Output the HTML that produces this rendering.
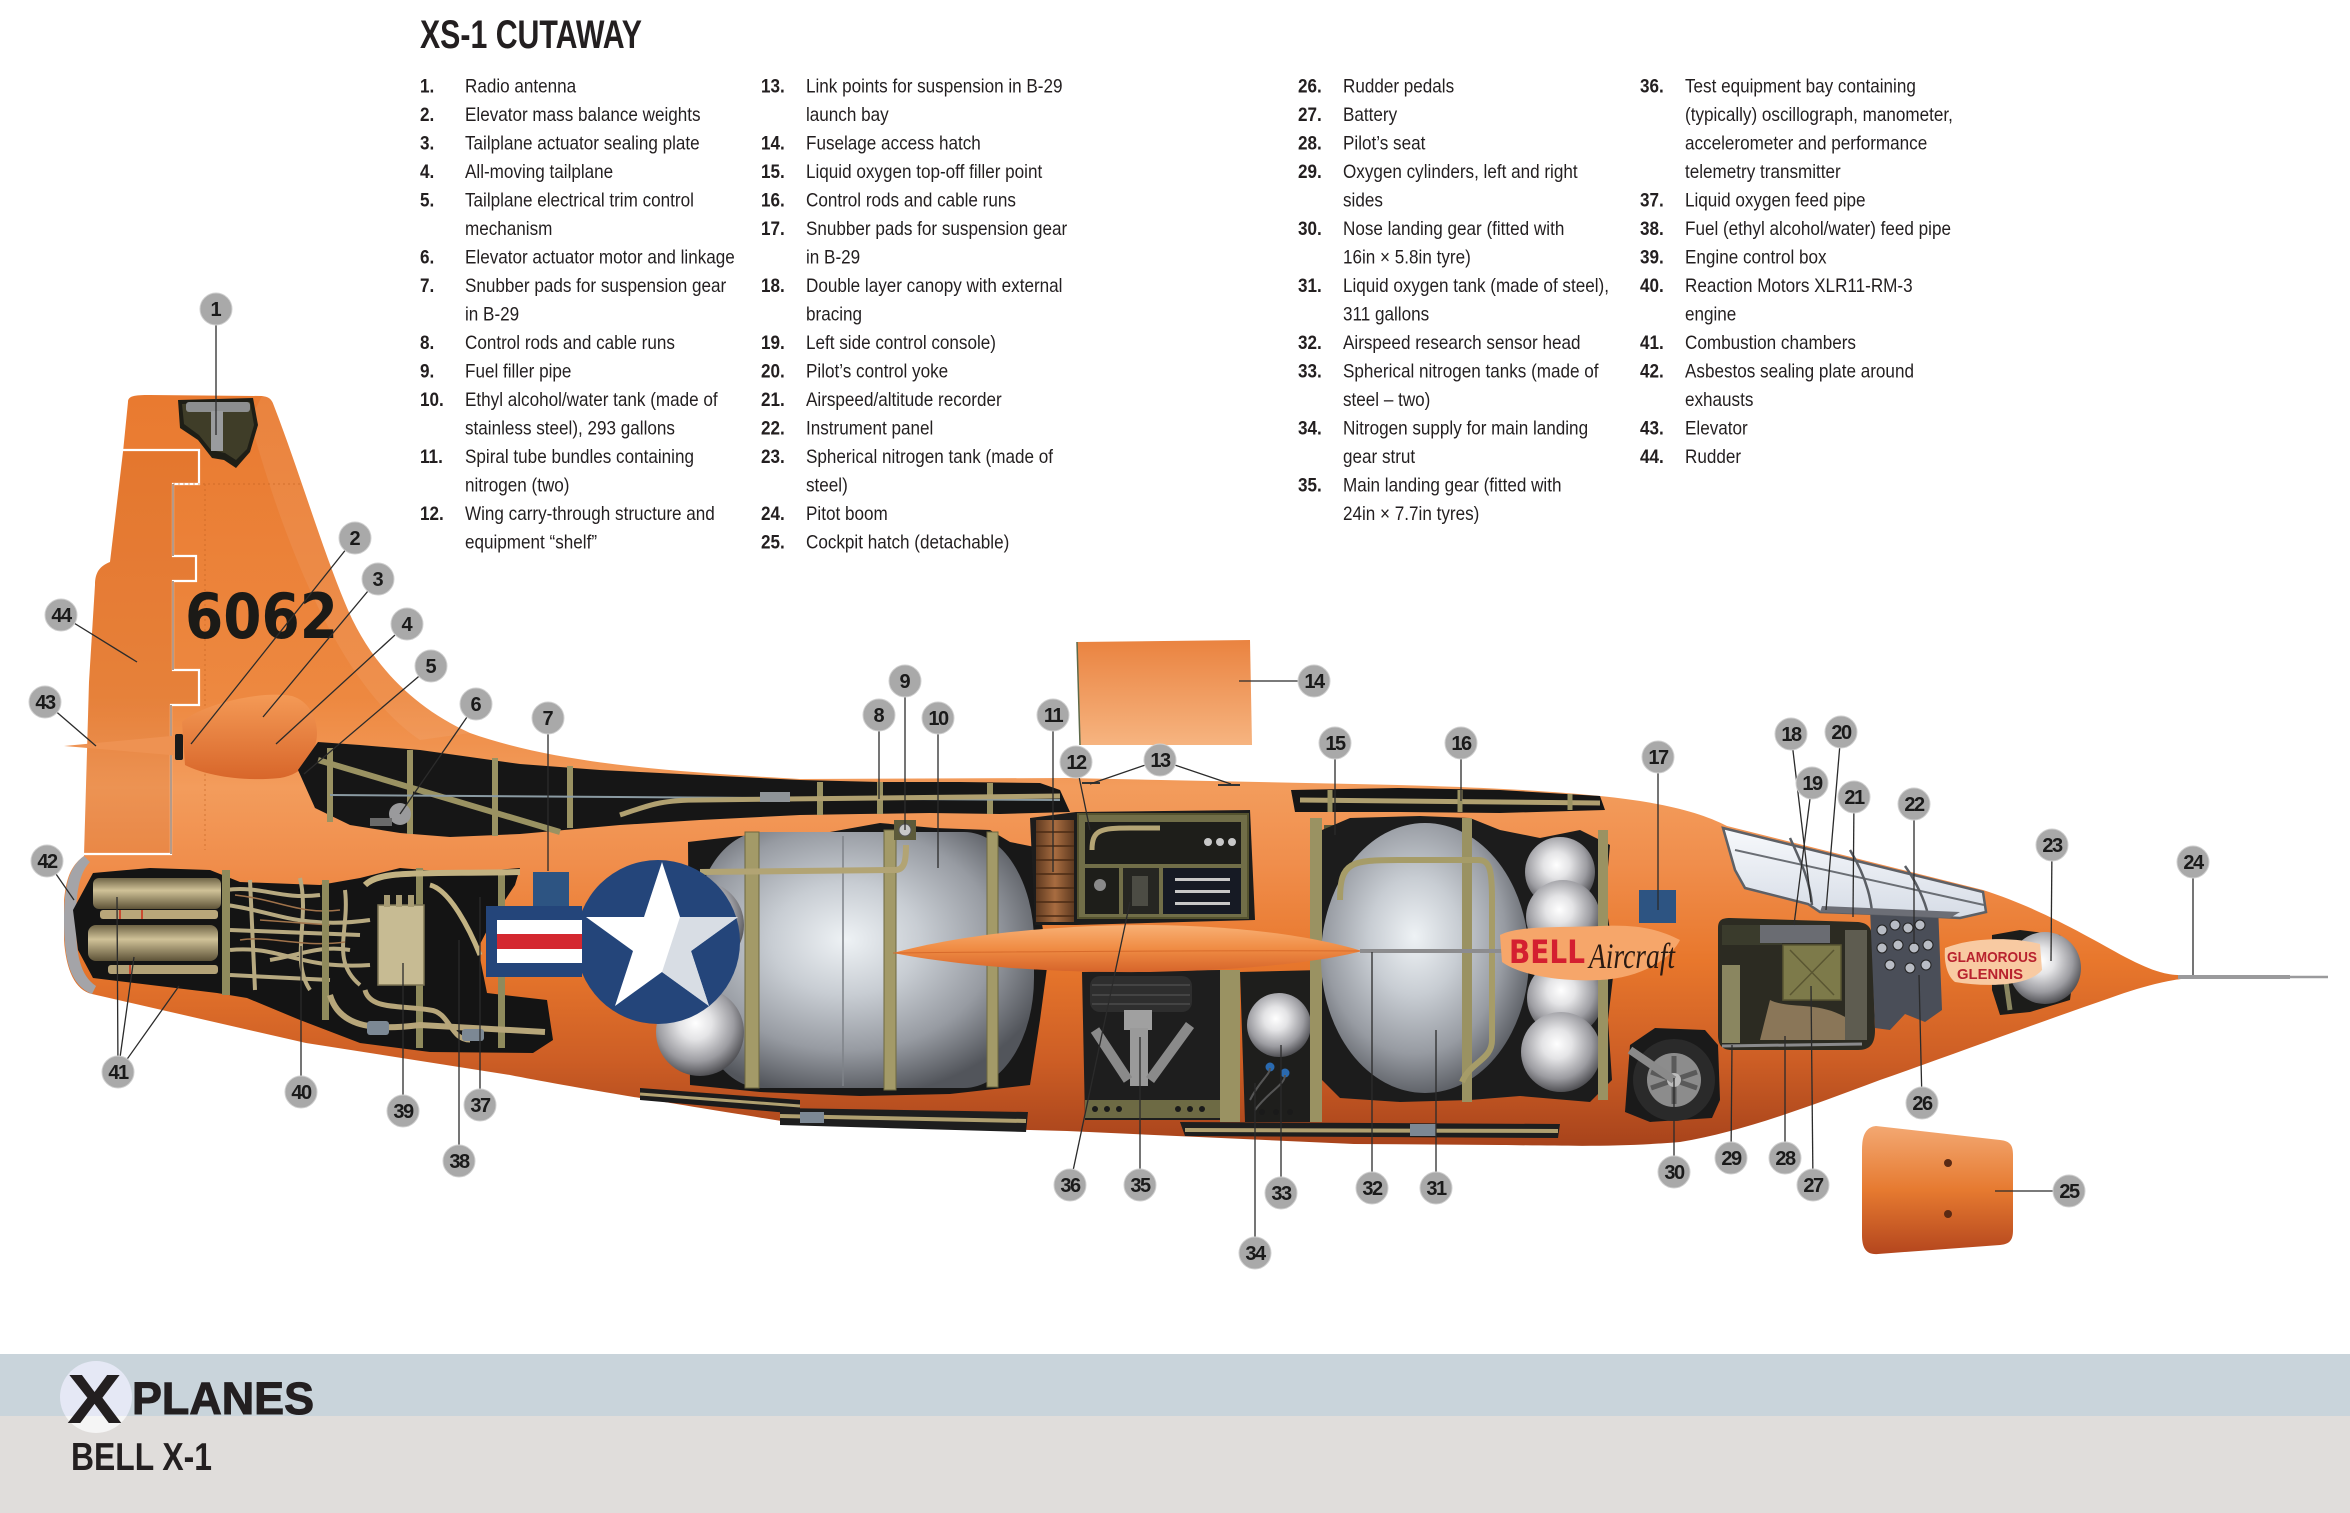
<!DOCTYPE html>
<html><head><meta charset="utf-8"><style>
html,body{margin:0;padding:0;background:#fff}
body{width:2350px;height:1513px;overflow:hidden}
svg{display:block}
</style></head><body>
<svg xmlns="http://www.w3.org/2000/svg" width="2350" height="1513" viewBox="0 0 2350 1513">
<defs>
<linearGradient id="fus" gradientUnits="userSpaceOnUse" x1="0" y1="395" x2="0" y2="1150">
<stop offset="0" stop-color="#e97a30"/><stop offset="0.40" stop-color="#ed8840"/><stop offset="0.52" stop-color="#f39c5c"/><stop offset="0.62" stop-color="#f08e4c"/><stop offset="0.75" stop-color="#e8772c"/><stop offset="0.88" stop-color="#cd5e25"/><stop offset="1" stop-color="#a6421b"/>
</linearGradient>
<radialGradient id="tankG" cx="0.45" cy="0.42" r="0.62">
<stop offset="0" stop-color="#eef2f5"/><stop offset="0.35" stop-color="#c8cdd3"/><stop offset="0.7" stop-color="#979ba2"/><stop offset="1" stop-color="#52555b"/>
</radialGradient>
<radialGradient id="sphG" cx="0.45" cy="0.4" r="0.62">
<stop offset="0" stop-color="#ffffff"/><stop offset="0.3" stop-color="#e4e4e6"/><stop offset="0.7" stop-color="#9c9ca1"/><stop offset="1" stop-color="#48484c"/>
</radialGradient>
<linearGradient id="wingG" x1="0" y1="0" x2="0" y2="1">
<stop offset="0" stop-color="#f8b074"/><stop offset="0.5" stop-color="#f08c44"/><stop offset="1" stop-color="#d6642a"/>
</linearGradient>
<linearGradient id="h14" x1="0" y1="0" x2="0" y2="1">
<stop offset="0" stop-color="#ea8340"/><stop offset="1" stop-color="#f6b480"/>
</linearGradient>
<linearGradient id="h25" x1="0" y1="0" x2="0" y2="1">
<stop offset="0" stop-color="#f3a872"/><stop offset="0.5" stop-color="#e67a30"/><stop offset="1" stop-color="#b4461e"/>
</linearGradient>
<linearGradient id="tan" x1="0" y1="0" x2="0" y2="1">
<stop offset="0" stop-color="#6f6446"/><stop offset="0.4" stop-color="#d0c298"/><stop offset="1" stop-color="#5e5338"/>
</linearGradient>
<linearGradient id="canG" x1="0" y1="0" x2="0" y2="1">
<stop offset="0" stop-color="#f7f9fc"/><stop offset="1" stop-color="#d6dce6"/>
</linearGradient>
<linearGradient id="spiral" x1="0" y1="0" x2="1" y2="0">
<stop offset="0" stop-color="#5e3a20"/><stop offset="0.5" stop-color="#a86c40"/><stop offset="1" stop-color="#5e3a20"/>
</linearGradient>
<linearGradient id="tailp" x1="0" y1="0" x2="0" y2="1">
<stop offset="0" stop-color="#f49a56"/><stop offset="1" stop-color="#d8662a"/>
</linearGradient>
<linearGradient id="xcirc" gradientUnits="userSpaceOnUse" x1="0" y1="1361" x2="0" y2="1433">
<stop offset="0.764" stop-color="#e5e8f5"/><stop offset="0.764" stop-color="#f5f5f5"/>
</linearGradient>
</defs>

<!-- ===== TITLE & LIST ===== -->
<text x="420" y="48" font-family="Liberation Sans, Arial, sans-serif" font-size="40" font-weight="bold" fill="#231f20" textLength="222" lengthAdjust="spacingAndGlyphs">XS-1 CUTAWAY</text>

<g font-family="Liberation Sans, Arial, sans-serif" font-size="19" fill="#231f20">
<g transform="translate(420 0) scale(0.9 1)" font-weight="bold">
<text x="0" y="92.5">1.</text><text x="0" y="121">2.</text><text x="0" y="149.5">3.</text><text x="0" y="178">4.</text><text x="0" y="206.5">5.</text><text x="0" y="263.5">6.</text><text x="0" y="292">7.</text><text x="0" y="349">8.</text><text x="0" y="377.5">9.</text><text x="0" y="406">10.</text><text x="0" y="463">11.</text><text x="0" y="520">12.</text>
</g>
<g transform="translate(465 0) scale(0.9 1)">
<text x="0" y="92.5">Radio antenna</text>
<text x="0" y="121">Elevator mass balance weights</text>
<text x="0" y="149.5">Tailplane actuator sealing plate</text>
<text x="0" y="178">All-moving tailplane</text>
<text x="0" y="206.5">Tailplane electrical trim control</text>
<text x="0" y="235">mechanism</text>
<text x="0" y="263.5">Elevator actuator motor and linkage</text>
<text x="0" y="292">Snubber pads for suspension gear</text>
<text x="0" y="320.5">in B-29</text>
<text x="0" y="349">Control rods and cable runs</text>
<text x="0" y="377.5">Fuel filler pipe</text>
<text x="0" y="406">Ethyl alcohol/water tank (made of</text>
<text x="0" y="434.5">stainless steel), 293 gallons</text>
<text x="0" y="463">Spiral tube bundles containing</text>
<text x="0" y="491.5">nitrogen (two)</text>
<text x="0" y="520">Wing carry-through structure and</text>
<text x="0" y="548.5">equipment &#8220;shelf&#8221;</text>
</g>

<g transform="translate(761 0) scale(0.9 1)" font-weight="bold">
<text x="0" y="92.5">13.</text><text x="0" y="149.5">14.</text><text x="0" y="178">15.</text><text x="0" y="206.5">16.</text><text x="0" y="235">17.</text><text x="0" y="292">18.</text><text x="0" y="349">19.</text><text x="0" y="377.5">20.</text><text x="0" y="406">21.</text><text x="0" y="434.5">22.</text><text x="0" y="463">23.</text><text x="0" y="520">24.</text><text x="0" y="548.5">25.</text>
</g>
<g transform="translate(806 0) scale(0.9 1)">
<text x="0" y="92.5">Link points for suspension in B-29</text>
<text x="0" y="121">launch bay</text>
<text x="0" y="149.5">Fuselage access hatch</text>
<text x="0" y="178">Liquid oxygen top-off filler point</text>
<text x="0" y="206.5">Control rods and cable runs</text>
<text x="0" y="235">Snubber pads for suspension gear</text>
<text x="0" y="263.5">in B-29</text>
<text x="0" y="292">Double layer canopy with external</text>
<text x="0" y="320.5">bracing</text>
<text x="0" y="349">Left side control console)</text>
<text x="0" y="377.5">Pilot&#8217;s control yoke</text>
<text x="0" y="406">Airspeed/altitude recorder</text>
<text x="0" y="434.5">Instrument panel</text>
<text x="0" y="463">Spherical nitrogen tank (made of</text>
<text x="0" y="491.5">steel)</text>
<text x="0" y="520">Pitot boom</text>
<text x="0" y="548.5">Cockpit hatch (detachable)</text>
</g>

<g transform="translate(1298 0) scale(0.9 1)" font-weight="bold">
<text x="0" y="92.5">26.</text><text x="0" y="121">27.</text><text x="0" y="149.5">28.</text><text x="0" y="178">29.</text><text x="0" y="235">30.</text><text x="0" y="292">31.</text><text x="0" y="349">32.</text><text x="0" y="377.5">33.</text><text x="0" y="434.5">34.</text><text x="0" y="491.5">35.</text>
</g>
<g transform="translate(1343 0) scale(0.9 1)">
<text x="0" y="92.5">Rudder pedals</text>
<text x="0" y="121">Battery</text>
<text x="0" y="149.5">Pilot&#8217;s seat</text>
<text x="0" y="178">Oxygen cylinders, left and right</text>
<text x="0" y="206.5">sides</text>
<text x="0" y="235">Nose landing gear (fitted with</text>
<text x="0" y="263.5">16in &#215; 5.8in tyre)</text>
<text x="0" y="292">Liquid oxygen tank (made of steel),</text>
<text x="0" y="320.5">311 gallons</text>
<text x="0" y="349">Airspeed research sensor head</text>
<text x="0" y="377.5">Spherical nitrogen tanks (made of</text>
<text x="0" y="406">steel &#8211; two)</text>
<text x="0" y="434.5">Nitrogen supply for main landing</text>
<text x="0" y="463">gear strut</text>
<text x="0" y="491.5">Main landing gear (fitted with</text>
<text x="0" y="520">24in &#215; 7.7in tyres)</text>
</g>

<g transform="translate(1640 0) scale(0.9 1)" font-weight="bold">
<text x="0" y="92.5">36.</text><text x="0" y="206.5">37.</text><text x="0" y="235">38.</text><text x="0" y="263.5">39.</text><text x="0" y="292">40.</text><text x="0" y="349">41.</text><text x="0" y="377.5">42.</text><text x="0" y="434.5">43.</text><text x="0" y="463">44.</text>
</g>
<g transform="translate(1685 0) scale(0.9 1)">
<text x="0" y="92.5">Test equipment bay containing</text>
<text x="0" y="121">(typically) oscillograph, manometer,</text>
<text x="0" y="149.5">accelerometer and performance</text>
<text x="0" y="178">telemetry transmitter</text>
<text x="0" y="206.5">Liquid oxygen feed pipe</text>
<text x="0" y="235">Fuel (ethyl alcohol/water) feed pipe</text>
<text x="0" y="263.5">Engine control box</text>
<text x="0" y="292">Reaction Motors XLR11-RM-3</text>
<text x="0" y="320.5">engine</text>
<text x="0" y="349">Combustion chambers</text>
<text x="0" y="377.5">Asbestos sealing plate around</text>
<text x="0" y="406">exhausts</text>
<text x="0" y="434.5">Elevator</text>
<text x="0" y="463">Rudder</text>
</g>
</g>

<!-- ===== DETACHED HATCHES ===== -->
<path d="M1077,642 L1250,640 L1252,745 L1080,745 Z" fill="url(#h14)"/>
<path d="M1077,642 L1080,745" stroke="#5d6a4a" stroke-width="1.5"/>
<path d="M1876,1126 C1866,1127 1862,1135 1862,1150 L1862,1235 C1862,1248 1866,1255 1878,1254 L2000,1245 C2010,1244 2013,1240 2013,1230 L2013,1155 C2013,1145 2010,1141 2000,1140 Z" fill="url(#h25)"/>
<circle cx="1948" cy="1163" r="4" fill="#5a2a14"/><circle cx="1948" cy="1214" r="4" fill="#5a2a14"/>

<!-- ===== AIRCRAFT BODY ===== -->
<path d="M128,402 C128,396 134,395 150,395 L262,396 C270,397 272,400 274,406 C298,468 322,548 345,603 C368,660 410,706 470,733 C560,765 680,772 800,779 L1067,778 L1354,784 C1460,786 1540,790 1600,796 C1660,802 1700,812 1727,826 L1983,890 C2040,908 2090,938 2125,957 C2150,970 2165,975 2180,975 L2181,979 C2165,981 2140,987 2110,998 C2040,1022 1960,1052 1880,1080 C1800,1110 1740,1132 1680,1142 C1620,1147 1580,1146 1500,1145 L1354,1144 L1067,1131 L800,1124 C650,1100 560,1085 510,1075 L306,1043 L92,994 C75,990 66,970 64,940 L64,900 C66,880 70,866 84,856 L89,682 L95,585 C95,572 100,566 110,562 L123,452 Z" fill="url(#fus)"/>
<!-- rudder tint -->
<path d="M84,854 L171,854 L171,705 L199,705 L199,670 L173,670 L173,581 L196,581 L196,556 L173,556 L173,484 L199,484 L199,450 L123,450 L110,562 C100,566 95,572 95,585 L89,682 Z" fill="#b0400a" opacity="0.10"/>
<!-- fin leading-edge highlight -->
<path d="M262,396 C270,397 272,400 274,406 C298,468 322,548 345,603 C368,660 410,706 470,733 L420,740 C360,700 300,600 250,420 Z" fill="#fff" opacity="0.07"/>
<!-- hinge lines -->
<path d="M122,450 L199,450 L199,484 L173,484 L173,556 L196,556 L196,581 L173,581 L173,670 L199,670 L199,705 L171,705 L171,854 L84,854" fill="none" stroke="#ffffff" stroke-width="2.2"/>
<path d="M171,705 L171,854 M173,484 L173,556 M173,581 L173,670" fill="none" stroke="#6b3510" stroke-width="1"/>
<path d="M205,484 L205,850 M173,484 L300,484" stroke="#c0601e" stroke-width="1" stroke-dasharray="2 3" opacity="0.6"/>

<!-- antenna cutaway -->
<path d="M178,400 L253,398 L258,425 L250,452 L236,468 L224,460 L212,458 L198,440 L180,428 Z" fill="#1e1e16"/>
<path d="M182,404 L250,402 L254,425 L247,449 L236,460 L225,453 L211,450 L199,435 L184,424 Z" fill="#3f3d28"/>
<rect x="186" y="402" width="64" height="10" rx="3" fill="#8d8f90"/>
<rect x="211" y="411" width="12" height="40" fill="#9a9c9e"/>

<!-- 6062 -->
<text x="185" y="638" font-family="DejaVu Sans, Liberation Sans, sans-serif" font-size="62" font-weight="bold" fill="#1b1a17" textLength="153" lengthAdjust="spacingAndGlyphs">6062</text>

<!-- tailplane -->
<path d="M64,746 L182,735 L182,756 Z" fill="#ee9252"/>
<path d="M182,722 C200,705 260,690 292,696 C312,702 320,725 316,742 C312,762 300,775 280,778 C240,782 205,775 185,765 Z" fill="url(#tailp)"/>
<rect x="175" y="734" width="8" height="26" rx="2" fill="#1a1a1a"/>

<!-- asbestos plate -->
<path d="M84,856 C70,866 64,885 64,920 C64,960 70,985 92,994 L96,986 C80,975 76,955 76,920 C76,890 80,872 90,862 Z" fill="#a4a4a8"/>

<!-- upper aft dark strip -->
<path d="M298,770 L318,742 L360,745 L420,750 L470,757 L520,764 L600,770 L700,775 L800,780 L880,782 L960,782 L1040,783 L1060,790 L1070,812 L1000,814 L930,813 L860,814 L800,815 L700,820 L620,825 L520,834 L450,837 L400,833 L350,825 L315,808 Z" fill="#161616"/>
<g stroke="#9a9262" stroke-width="6" fill="none">
<path d="M330,748 L330,822 M410,750 L410,834 M495,758 L495,836 M570,766 L570,828 M820,782 L820,815 M880,782 L880,814 M990,783 L990,814"/>
<path d="M318,760 L560,832"/>
</g>
<path d="M330,795 L1060,800" stroke="#8a9aa2" stroke-width="2"/>
<path d="M620,815 C650,805 660,800 700,800 L1060,796" stroke="#b0a070" stroke-width="5" fill="none"/>
<rect x="760" y="792" width="30" height="10" fill="#8f9498"/>
<circle cx="400" cy="814" r="11" fill="#9a9a9c"/><rect x="370" y="818" width="22" height="8" fill="#6a6a6a"/>

<!-- engine cutaway -->
<path d="M73,910 L93,873 L150,868 L210,870 L240,882 L320,885 L360,878 L400,868 L460,873 L520,868 L515,885 L495,915 L478,948 L487,993 L547,1000 L553,1040 L533,1053 L430,1052 L360,1043 L300,1020 L247,998 L217,993 L93,978 L78,950 Z" fill="#141414"/>
<rect x="93" y="878" width="128" height="31" rx="6" fill="url(#tan)"/>
<rect x="88" y="925" width="130" height="36" rx="8" fill="url(#tan)"/>
<rect x="100" y="910" width="118" height="9" rx="3" fill="#b9a77a"/>
<rect x="108" y="965" width="110" height="9" rx="3" fill="#b3a277"/>
<g stroke="#c94a30" stroke-width="2"><path d="M120,910 L120,919 M142,910 L142,919 M130,965 L130,974"/></g>
<g stroke="#b7a980" stroke-width="4" fill="none">
<path d="M226,890 C260,885 280,900 320,895"/>
<path d="M226,905 C270,910 300,930 370,920"/>
<path d="M230,930 L360,935"/>
<path d="M230,950 C280,945 300,970 370,965"/>
<path d="M230,975 L330,980"/>
<path d="M250,880 L255,990"/>
<path d="M300,878 C310,920 290,960 310,990"/>
<path d="M345,890 C350,930 330,960 360,985"/>
<path d="M270,960 C300,955 320,945 350,950"/>
</g>
<g stroke="#a0724a" stroke-width="1.5" fill="none"><path d="M235,895 C280,900 300,915 340,910 M240,940 C270,935 300,948 345,942 M260,920 L330,925"/></g>
<g fill="#8f8a5c"><rect x="222" y="870" width="8" height="125"/><rect x="322" y="880" width="7" height="140"/><rect x="416" y="868" width="7" height="180"/><rect x="498" y="870" width="7" height="178"/></g>
<path d="M365,885 C380,870 420,874 520,872" stroke="#c2b282" stroke-width="6" fill="none"/>
<path d="M430,885 C450,890 470,930 480,955" stroke="#c2b282" stroke-width="5" fill="none"/>
<path d="M330,995 C340,1030 380,1030 420,1025 L545,1032" stroke="#b7a67a" stroke-width="6" fill="none"/>
<path d="M365,990 C370,1010 400,1005 430,1010 C450,1012 450,1040 470,1040" stroke="#b7a67a" stroke-width="5" fill="none"/>
<rect x="367" y="1021" width="22" height="14" rx="3" fill="#7c8894"/><rect x="462" y="1029" width="22" height="12" rx="3" fill="#7c8894"/>
<rect x="378" y="905" width="46" height="80" fill="#c7bb93" stroke="#7d7455" stroke-width="1.5"/>
<rect x="384" y="895" width="6" height="12" fill="#a89c74"/><rect x="396" y="895" width="6" height="12" fill="#a89c74"/><rect x="408" y="895" width="6" height="12" fill="#a89c74"/>

<!-- aft lower strip -->
<path d="M640,1088 L800,1100 L800,1114 L640,1100 Z" fill="#1c1c1c"/>
<path d="M640,1094 L800,1106" stroke="#b0a070" stroke-width="3"/>

<!-- blue box 7 -->
<rect x="533" y="872" width="36" height="34" fill="#2d5482"/>

<!-- fuel tank area -->
<path d="M688,842 L740,836 L830,832 L880,823 L935,828 L990,830 L1010,842 L1040,848 L1038,900 L1048,960 L1040,1020 L1030,1085 L950,1094 L860,1096 L760,1092 L690,1085 Z" fill="#181818"/>
<rect x="692" y="832" width="342" height="256" rx="70" ry="110" fill="url(#tankG)"/>
<path d="M843,836 L843,1086" stroke="#7e8288" stroke-width="1.5"/>
<g fill="#a39a68" stroke="#6e6840" stroke-width="1"><rect x="745" y="832" width="14" height="256"/><rect x="884" y="830" width="12" height="260"/><rect x="987" y="832" width="11" height="255"/></g>
<path d="M700,872 L895,870 C905,870 906,860 906,845" stroke="#b2a474" stroke-width="6" fill="none"/>
<rect x="894" y="820" width="22" height="20" fill="#5c5a3a"/><circle cx="905" cy="830" r="6" fill="#c8c8c8" stroke="#555"/>

<!-- spheres behind roundel -->
<circle cx="700" cy="925" r="44" fill="url(#sphG)"/>
<circle cx="700" cy="1032" r="44" fill="url(#sphG)"/>

<!-- roundel -->
<circle cx="658" cy="942" r="82" fill="#24457a"/>
<rect x="486" y="906" width="96" height="71" fill="#24457a"/>
<rect x="497" y="920" width="85" height="43" fill="#ffffff"/>
<rect x="497" y="934" width="85" height="15" fill="#d42830"/>
<polygon points="662,862 680,917 738,917 691,951 709,1006 662,972 615,1006 633,951 586,917 644,917" fill="#ffffff"/>
<polygon points="662,972 709,1006 691,951 738,917 680,917" fill="#d8dde4"/>

<!-- equipment bay / spiral -->
<path d="M1030,818 L1076,812 L1250,810 L1255,920 L1076,925 L1035,925 Z" fill="#1c1c1c"/>
<rect x="1036" y="820" width="38" height="102" fill="url(#spiral)"/>
<g stroke="#4a2a14" stroke-width="1.5"><path d="M1036,832 L1074,832 M1036,846 L1074,846 M1036,860 L1074,860 M1036,874 L1074,874 M1036,888 L1074,888 M1036,902 L1074,902 M1036,916 L1074,916"/></g>
<rect x="1078" y="814" width="170" height="104" fill="#716e48" stroke="#55532f" stroke-width="2"/>
<rect x="1085" y="822" width="156" height="42" fill="#1e1e1a"/>
<rect x="1085" y="868" width="34" height="46" fill="#1e1e1a"/>
<rect x="1123" y="868" width="36" height="46" fill="#262622"/>
<rect x="1163" y="868" width="78" height="46" fill="#161a24"/>
<path d="M1092,850 C1092,830 1100,828 1130,828 L1160,828" stroke="#b4a474" stroke-width="5" fill="none"/>
<g fill="#c8c8c8"><circle cx="1220" cy="842" r="4"/><circle cx="1232" cy="842" r="4"/><circle cx="1208" cy="842" r="4"/><rect x="1175" y="878" width="55" height="3"/><rect x="1175" y="890" width="55" height="3"/><rect x="1175" y="902" width="55" height="3"/></g>
<circle cx="1100" cy="885" r="6" fill="#8a8a8a"/><rect x="1132" y="876" width="16" height="30" fill="#4c4c44"/>

<!-- upper mid strip 16 -->
<path d="M1291,790 L1400,788 L1500,790 L1600,796 L1605,810 L1500,813 L1400,812 L1295,812 Z" fill="#161616"/>
<path d="M1300,800 L1600,803" stroke="#b0a070" stroke-width="5"/>
<g stroke="#9a9262" stroke-width="5"><path d="M1330,790 L1330,812 M1460,790 L1460,812 M1570,794 L1570,810"/></g>
<rect x="1324" y="825" width="22" height="20" fill="#5c5a3a"/><circle cx="1335" cy="835" r="6" fill="#c8c8c8" stroke="#555"/>

<!-- gear bay -->
<path d="M1082,972 L1220,970 L1222,1120 L1085,1120 Z" fill="#1e1e1e"/>
<rect x="1090" y="976" width="102" height="36" rx="10" fill="#2e2e2e"/>
<g stroke="#444" stroke-width="2"><path d="M1092,985 L1190,985 M1092,995 L1190,995 M1092,1004 L1190,1004"/></g>
<rect x="1124" y="1010" width="28" height="20" fill="#a0a0a0"/>
<rect x="1130" y="1028" width="18" height="58" fill="#9a9a9a"/>
<path d="M1095,1030 L1128,1080 M1190,1025 L1150,1080" stroke="#8a8a8a" stroke-width="10"/>
<rect x="1085" y="1100" width="135" height="18" fill="#6d6a44"/>
<g fill="#1a1a1a"><circle cx="1095" cy="1109" r="3"/><circle cx="1107" cy="1109" r="3"/><circle cx="1119" cy="1109" r="3"/><circle cx="1178" cy="1109" r="3"/><circle cx="1190" cy="1109" r="3"/><circle cx="1202" cy="1109" r="3"/></g>

<!-- N2 bay -->
<path d="M1240,972 L1322,970 L1322,1122 L1245,1122 Z" fill="#1e1e1c"/>
<circle cx="1279" cy="1025" r="32" fill="url(#sphG)"/>
<circle cx="1270" cy="1067" r="4.5" fill="#2a6ab0"/><circle cx="1285" cy="1073" r="4.5" fill="#2a6ab0"/>
<path d="M1250,1100 C1260,1080 1270,1075 1270,1068 M1255,1110 C1270,1090 1285,1085 1285,1075" stroke="#555" stroke-width="2" fill="none"/>
<g fill="#1a1a1a"><circle cx="1262" cy="1112" r="3"/><circle cx="1276" cy="1112" r="3"/><circle cx="1290" cy="1112" r="3"/></g>
<g fill="#9a9262"><rect x="1220" y="970" width="20" height="152"/><rect x="1310" y="818" width="12" height="304"/></g>

<!-- LOX tank area -->
<path d="M1322,830 L1350,818 L1420,816 L1470,818 L1500,830 L1540,838 L1580,830 L1610,845 L1605,900 L1615,960 L1608,1020 L1612,1080 L1590,1102 L1520,1096 L1470,1100 L1400,1102 L1340,1098 L1322,1080 Z" fill="#1c1c1c"/>
<ellipse cx="1425" cy="958" rx="104" ry="135" fill="url(#tankG)"/>
<circle cx="1560" cy="872" r="35" fill="url(#sphG)"/>
<circle cx="1563" cy="917" r="37" fill="url(#sphG)"/>
<circle cx="1565" cy="998" r="38" fill="url(#sphG)"/>
<circle cx="1561" cy="1052" r="40" fill="url(#sphG)"/>
<g fill="#9a9262"><rect x="1462" y="818" width="10" height="284"/><rect x="1598" y="830" width="10" height="270"/></g>
<path d="M1340,900 C1340,862 1350,860 1400,860 L1478,860 C1490,860 1492,870 1492,900 L1492,1040 C1492,1060 1470,1062 1462,1082" stroke="#a69c68" stroke-width="6" fill="none"/>

<!-- lower pipe strips -->
<path d="M780,1108 L1028,1112 L1026,1132 L780,1125 Z" fill="#1e1e1e"/>
<path d="M780,1116 L1026,1121" stroke="#b0a070" stroke-width="4"/>
<rect x="800" y="1112" width="24" height="11" fill="#7c8894"/>
<path d="M1180,1122 L1560,1124 L1558,1138 L1185,1136 Z" fill="#1e1e1e"/>
<path d="M1185,1130 L1558,1131" stroke="#b0a070" stroke-width="4"/>
<rect x="1410" y="1124" width="26" height="12" fill="#7c8894"/>

<!-- wing -->
<path d="M893,953 C960,935 1050,925 1150,925 C1250,926 1320,938 1362,951 C1320,962 1250,970 1150,972 C1050,973 960,966 893,953 Z" fill="url(#wingG)"/>
<path d="M893,953 C1000,952 1200,950 1362,951" stroke="#c9581e" stroke-width="1" opacity="0.6" fill="none"/>
<!-- sensor rod 32 -->
<path d="M1360,951 L1525,951" stroke="#8c8c8e" stroke-width="4"/>

<!-- Bell Aircraft -->
<path d="M1500,935 C1520,925 1560,928 1600,926 C1640,924 1660,930 1680,940 C1670,960 1640,978 1600,980 C1560,982 1520,975 1502,962 Z" fill="#f6a66a"/>
<text x="1509" y="963" font-family="DejaVu Sans, Liberation Sans, sans-serif" font-size="32" font-weight="bold" fill="#d41f30" textLength="76" lengthAdjust="spacingAndGlyphs">BELL</text>
<text x="1589" y="968" font-family="Liberation Serif, serif" font-style="italic" font-size="36" fill="#2a1a12" textLength="86" lengthAdjust="spacingAndGlyphs">Aircraft</text>

<!-- blue box 17 -->
<rect x="1639" y="890" width="37" height="33" fill="#2d5482"/>

<!-- nose gear -->
<path d="M1630,1045 L1655,1028 L1705,1030 L1718,1045 L1720,1100 L1712,1118 L1650,1122 L1625,1112 Z" fill="#1a1a1a"/>
<circle cx="1674" cy="1080" r="41" fill="#2a2a2a"/>
<circle cx="1674" cy="1080" r="27" fill="#8c8c8c"/>
<g stroke="#5a5a5a" stroke-width="5"><path d="M1674,1056 L1674,1104 M1651,1072 L1697,1088 M1651,1088 L1697,1072"/></g>
<circle cx="1674" cy="1080" r="7" fill="#bdbdbd"/>
<path d="M1630,1050 L1674,1080" stroke="#8a8a8a" stroke-width="8"/>

<!-- cockpit -->
<path d="M1718,928 C1718,920 1722,918 1730,918 L1858,922 C1868,923 1872,928 1872,938 L1875,1030 C1875,1044 1870,1050 1858,1050 L1732,1050 C1722,1050 1718,1045 1718,1035 Z" fill="#2c2b22"/>
<path d="M1870,908 L1938,905 L1942,1010 L1925,1022 L1905,1014 L1890,1030 L1875,1028 Z" fill="#4a4e58"/>
<g fill="#b8bcc4" stroke="#222" stroke-width="1"><circle cx="1882" cy="930" r="5"/><circle cx="1895" cy="925" r="5"/><circle cx="1908" cy="928" r="5"/><circle cx="1920" cy="925" r="5"/><circle cx="1882" cy="948" r="5"/><circle cx="1898" cy="945" r="5"/><circle cx="1914" cy="948" r="5"/><circle cx="1928" cy="945" r="5"/><circle cx="1890" cy="965" r="5"/><circle cx="1910" cy="968" r="5"/><circle cx="1926" cy="965" r="5"/></g>
<rect x="1722" y="925" width="60" height="20" fill="#3a3b2c"/>
<rect x="1722" y="965" width="18" height="78" fill="#8a8660"/>
<rect x="1783" y="945" width="58" height="55" fill="#7d7a4a" stroke="#5a5632" stroke-width="1.5"/>
<path d="M1790,950 L1834,995 M1834,950 L1790,995" stroke="#5a5632" stroke-width="1.5"/>
<path d="M1770,1000 C1790,1010 1820,1000 1850,1020 L1850,1040 L1760,1040 Z" fill="#8a7658"/>
<rect x="1845" y="930" width="22" height="110" fill="#5e5c50"/>
<path d="M1722,1046 L1862,1044" stroke="#8a8a8c" stroke-width="3"/>
<rect x="1760" y="925" width="70" height="18" fill="#6a6c72"/>

<!-- canopy -->
<path d="M1723,828 L1983,892 L1986,912 L1960,918 L1880,914 L1820,912 L1808,904 L1745,888 L1735,870 Z" fill="url(#canG)" stroke="#5d6066" stroke-width="2.5"/>
<path d="M1735,850 L1984,905" stroke="#6a6e74" stroke-width="2"/>
<path d="M1790,838 C1800,860 1810,880 1812,905 M1850,850 C1862,870 1870,890 1872,912 M1905,866 C1915,880 1925,900 1928,915" stroke="#5a5e64" stroke-width="2.5" fill="none"/>
<path d="M1822,906 L1960,912 L1950,918 L1820,912 Z" fill="#6c6e76"/>

<!-- nose sphere 23 -->
<path d="M1992,935 L2020,930 L2060,935 L2075,960 L2070,1000 L2030,1012 L2000,1015 L1992,990 Z" fill="#1c1c1a"/>
<path d="M2000,940 L2010,1010" stroke="#8a8660" stroke-width="5"/>
<circle cx="2045" cy="968" r="36" fill="url(#sphG)"/>

<!-- Glamorous Glennis -->
<path d="M1945,948 C1970,938 2010,936 2040,944 L2042,970 C2030,985 1990,988 1955,982 C1946,975 1944,960 1945,948 Z" fill="#f8caa2"/>
<text x="1947" y="962" font-family="Liberation Sans, Arial, sans-serif" font-size="15" font-weight="bold" fill="#b8222e" textLength="90" lengthAdjust="spacingAndGlyphs">GLAMOROUS</text>
<text x="1957" y="979" font-family="Liberation Sans, Arial, sans-serif" font-size="15" font-weight="bold" fill="#b8222e" textLength="66" lengthAdjust="spacingAndGlyphs">GLENNIS</text>

<!-- pitot -->
<path d="M2178,977 L2290,977" stroke="#9a9a9c" stroke-width="4"/>
<path d="M2290,977 L2328,977" stroke="#9a9a9c" stroke-width="2.5"/>

<!-- link point ticks -->
<path d="M1082,783 L1100,783 M1218,785 L1240,785" stroke="#333" stroke-width="2"/>

<!-- ===== LEADER LINES ===== -->
<g stroke="#2b2b2b" stroke-width="1.3" fill="none">
<path d="M216,309 L216,435"/>
<path d="M355,538 L191,744"/>
<path d="M378,579 L263,717"/>
<path d="M407,624 L276,744"/>
<path d="M431,666 L304,774"/>
<path d="M476,704 L400,814"/>
<path d="M548,718 L548,871"/>
<path d="M879,715 L879,799"/>
<path d="M905,681 L905,830"/>
<path d="M938,718 L938,868"/>
<path d="M1053,715 L1053,872"/>
<path d="M1076,762 L1090,830"/>
<path d="M1160,760 L1090,784 M1160,760 L1231,784"/>
<path d="M1314,681 L1239,681"/>
<path d="M1335,743 L1335,835"/>
<path d="M1461,743 L1461,801"/>
<path d="M1658,757 L1658,910"/>
<path d="M1791,734 L1811,902"/>
<path d="M1812,783 L1794,925"/>
<path d="M1841,732 L1826,910"/>
<path d="M1854,797 L1853,917"/>
<path d="M1914,804 L1914,944"/>
<path d="M2052,845 L2051,961"/>
<path d="M2193,862 L2193,975"/>
<path d="M2069,1191 L1995,1191"/>
<path d="M1922,1103 L1919,975"/>
<path d="M1813,1185 L1811,986"/>
<path d="M1785,1158 L1785,1036"/>
<path d="M1731,1158 L1732,1045"/>
<path d="M1674,1172 L1674,1078"/>
<path d="M1436,1188 L1436,1030"/>
<path d="M1372,1188 L1372,952"/>
<path d="M1281,1193 L1281,1045"/>
<path d="M1255,1253 L1255,1083"/>
<path d="M1140,1185 L1140,1037"/>
<path d="M1070,1185 L1130,902"/>
<path d="M480,1105 L480,897"/>
<path d="M459,1161 L459,940"/>
<path d="M403,1111 L403,963"/>
<path d="M301,1092 L301,946"/>
<path d="M118,1072 L117,897 M118,1072 L134,957 M118,1072 L179,986"/>
<path d="M47,861 L74,900"/>
<path d="M45,702 L96,746"/>
<path d="M61,615 L137,662"/>
</g>

<!-- ===== CALLOUT CIRCLES ===== -->
<g fill="#a9a9a9" stroke="#cfcfcf" stroke-width="1">
<circle cx="216" cy="309" r="16"/><circle cx="355" cy="538" r="16"/><circle cx="378" cy="579" r="16"/><circle cx="407" cy="624" r="16"/><circle cx="431" cy="666" r="16"/><circle cx="476" cy="704" r="16"/><circle cx="548" cy="718" r="16"/><circle cx="879" cy="715" r="16"/><circle cx="905" cy="681" r="16"/><circle cx="938" cy="718" r="16"/><circle cx="1053" cy="715" r="16"/><circle cx="1076" cy="762" r="16"/><circle cx="1160" cy="760" r="16"/><circle cx="1314" cy="681" r="16"/><circle cx="1335" cy="743" r="16"/><circle cx="1461" cy="743" r="16"/><circle cx="1658" cy="757" r="16"/><circle cx="1791" cy="734" r="16"/><circle cx="1812" cy="783" r="16"/><circle cx="1841" cy="732" r="16"/><circle cx="1854" cy="797" r="16"/><circle cx="1914" cy="804" r="16"/><circle cx="2052" cy="845" r="16"/><circle cx="2193" cy="862" r="16"/><circle cx="2069" cy="1191" r="16"/><circle cx="1922" cy="1103" r="16"/><circle cx="1813" cy="1185" r="16"/><circle cx="1785" cy="1158" r="16"/><circle cx="1731" cy="1158" r="16"/><circle cx="1674" cy="1172" r="16"/><circle cx="1436" cy="1188" r="16"/><circle cx="1372" cy="1188" r="16"/><circle cx="1281" cy="1193" r="16"/><circle cx="1255" cy="1253" r="16"/><circle cx="1140" cy="1185" r="16"/><circle cx="1070" cy="1185" r="16"/><circle cx="480" cy="1105" r="16"/><circle cx="459" cy="1161" r="16"/><circle cx="403" cy="1111" r="16"/><circle cx="301" cy="1092" r="16"/><circle cx="118" cy="1072" r="16"/><circle cx="47" cy="861" r="16"/><circle cx="45" cy="702" r="16"/><circle cx="61" cy="615" r="16"/>
</g>
<g font-family="Liberation Sans, Arial, sans-serif" font-size="20" font-weight="bold" fill="#1a1a1a" text-anchor="middle">
<text x="216" y="316">1</text><text x="355" y="545">2</text><text x="378" y="586">3</text><text x="407" y="631">4</text><text x="431" y="673">5</text><text x="476" y="711">6</text><text x="548" y="725">7</text><text x="879" y="722">8</text><text x="905" y="688">9</text>
</g>
<g font-family="Liberation Sans, Arial, sans-serif" font-size="20" font-weight="bold" fill="#1a1a1a" text-anchor="middle" letter-spacing="-1.5">
<text x="938" y="725">10</text><text x="1053" y="722">11</text><text x="1076" y="769">12</text><text x="1160" y="767">13</text><text x="1314" y="688">14</text><text x="1335" y="750">15</text><text x="1461" y="750">16</text><text x="1658" y="764">17</text><text x="1791" y="741">18</text><text x="1812" y="790">19</text><text x="1841" y="739">20</text><text x="1854" y="804">21</text><text x="1914" y="811">22</text><text x="2052" y="852">23</text><text x="2193" y="869">24</text><text x="2069" y="1198">25</text><text x="1922" y="1110">26</text><text x="1813" y="1192">27</text><text x="1785" y="1165">28</text><text x="1731" y="1165">29</text><text x="1674" y="1179">30</text><text x="1436" y="1195">31</text><text x="1372" y="1195">32</text><text x="1281" y="1200">33</text><text x="1255" y="1260">34</text><text x="1140" y="1192">35</text><text x="1070" y="1192">36</text><text x="480" y="1112">37</text><text x="459" y="1168">38</text><text x="403" y="1118">39</text><text x="301" y="1099">40</text><text x="118" y="1079">41</text><text x="47" y="868">42</text><text x="45" y="709">43</text><text x="61" y="622">44</text>
</g>

<!-- ===== BOTTOM BANNER ===== -->
<rect x="0" y="1354" width="2350" height="62" fill="#c9d4db"/>
<rect x="0" y="1416" width="2350" height="97" fill="#e0dddb"/>
<circle cx="96" cy="1397" r="36" fill="url(#xcirc)"/>
<g font-family="Liberation Sans, Arial, sans-serif" font-weight="bold" fill="#231f20">
<text x="67" y="1423" font-size="70" textLength="55" lengthAdjust="spacingAndGlyphs">X</text>
<text x="132" y="1414" font-size="45" stroke="#231f20" stroke-width="1" textLength="182" lengthAdjust="spacingAndGlyphs">PLANES</text>
<text x="71" y="1470" font-size="39" textLength="141" lengthAdjust="spacingAndGlyphs">BELL X-1</text>
</g>
</svg>
</body></html>
